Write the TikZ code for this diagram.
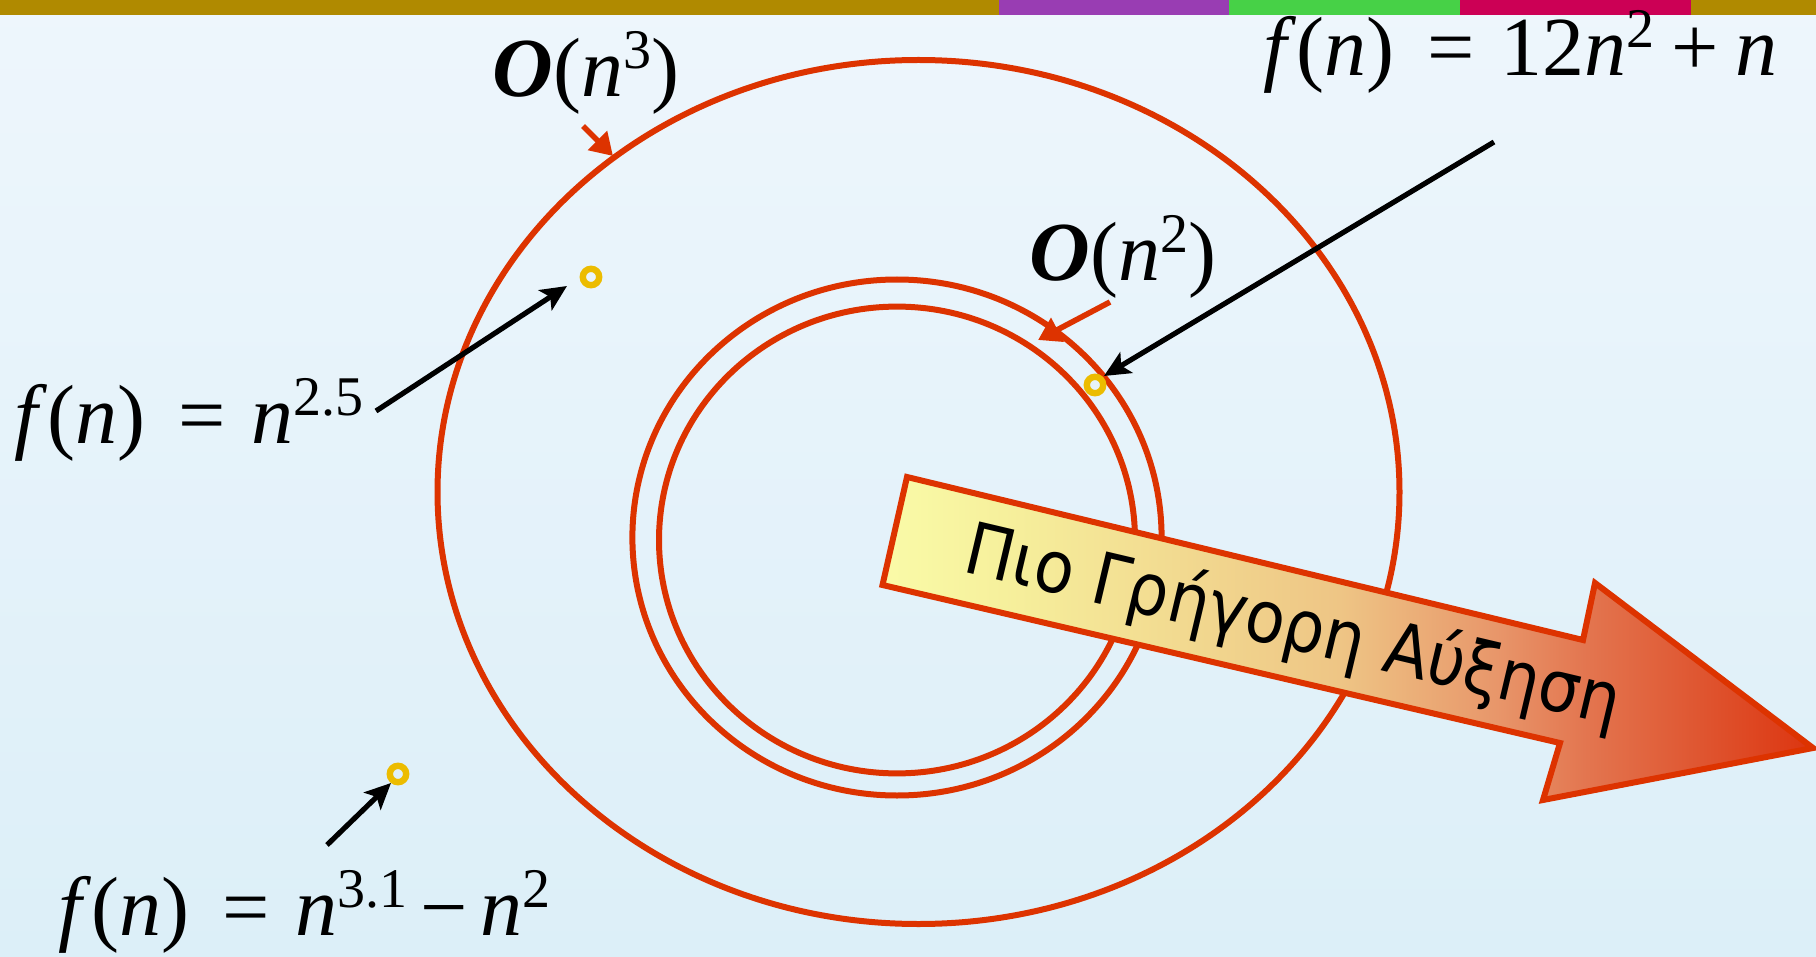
\documentclass[tikz,border=0pt]{standalone}
\usepackage{fontspec}
\setmainfont{Liberation Serif}
\newfontfamily\grk{DejaVu Sans}[FakeStretch=0.9]
\usetikzlibrary{arrows.meta}
\definecolor{bgtop}{HTML}{EEF6FC}
\definecolor{bgbot}{HTML}{DCEFF8}
\definecolor{ored}{HTML}{DD3300}
\definecolor{dotc}{HTML}{ECBC00}
\definecolor{olive}{HTML}{B08A00}
\definecolor{purp}{HTML}{993DB3}
\definecolor{grn}{HTML}{47D147}
\definecolor{crim}{HTML}{CC0055}
\definecolor{a0}{HTML}{FAFBA8}
\definecolor{a1}{HTML}{F6F09C}
\definecolor{a2}{HTML}{EEC585}
\definecolor{a3}{HTML}{E8966A}
\definecolor{a4}{HTML}{E37650}
\definecolor{a5}{HTML}{DF5530}
\definecolor{a6}{HTML}{DC3510}
\pgfdeclarehorizontalshading{arrowshade}{100bp}{color(0bp)=(a0); color(25bp)=(a0); color(31.5bp)=(a1); color(49.6bp)=(a2); color(58bp)=(a3); color(62.7bp)=(a4); color(69bp)=(a5); color(75bp)=(a6); color(100bp)=(a6)}
\newcommand{\supx}[1]{\raisebox{14pt}{\fontsize{28}{28}\selectfont #1}}
\newcommand{\eqsp}{\hspace{0.4em}=\hspace{0.3em}}
\begin{document}
\begin{tikzpicture}[x=0.5pt,y=-0.5pt,
  ring/.style={draw=ored,line width=3pt},
  lbl/.style={anchor=base west,inner sep=0pt,font=\fontsize{42}{50}\selectfont},
  dotn/.style={circle,draw=dotc,line width=3.2pt,minimum size=8.2pt,inner sep=0pt},
  blk/.style={draw=black,line width=2.6pt,-{Stealth[length=13pt,width=12pt,inset=3pt]}},
  redarr/.style={draw=ored,line width=2.8pt,-{Triangle[length=11pt,width=13pt]}},
  arrowbox/.style={draw=ored,line width=3pt,line join=miter,shading=arrowshade}]
\useasboundingbox (0,0) rectangle (1816,957);
\shade[top color=bgtop,bottom color=bgbot] (0,0) rectangle (1816,957);
\fill[olive] (0,0) rectangle (999,15);
\fill[purp] (999,0) rectangle (1229,15);
\fill[grn] (1229,0) rectangle (1460,15);
\fill[crim] (1460,0) rectangle (1691,15);
\fill[olive] (1691,0) rectangle (1816,15);
% sets
\draw[ring] (918.5,492) ellipse [x radius=481, y radius=432];
\draw[ring] (897,537.5) ellipse [x radius=264.6, y radius=258];
\draw[ring] (897,540) ellipse [x radius=238, y radius=233.4];
% labels
\node[lbl] (o3) at (492,97) {\textbf{\textit{O}}(\textit{n}\supx{3})};
\node[lbl] (o2) at (1029,281) {\textbf{\textit{O}}(\textit{n}\supx{2})};
\node[lbl] (f1) at (1263,76) {\textit{f}(\textit{n})\eqsp 12\textit{n}\supx{2}\hspace{0.2em}+\hspace{0.2em}\textit{n}};
\node[lbl] (f2) at (14,444) {\textit{f}(\textit{n})\eqsp\textit{n}\supx{2.5}};
\node[lbl] (f3) at (58,935) {\textit{f}(\textit{n})\eqsp\textit{n}\supx{3.1}\hspace{0.15em}−\hspace{0.15em}\textit{n}\supx{2}};
% dots
\node[dotn] (d1) at (591,277) {};
\node[dotn] (d2) at (1095,385) {};
\node[dotn] (d3) at (398,774) {};
% arrow ends
\coordinate (s1) at (376,411);
\coordinate (e1) at (567,286);
\coordinate (s2) at (1494,142);
\coordinate (e2) at (1104,376);
\coordinate (s3) at (327,845);
\coordinate (e3) at (391,783);
\coordinate (r3s) at (583,126);
\coordinate (r3e) at (613,156);
\coordinate (r2s) at (1110,302);
\coordinate (r2e) at (1038,340);
\draw[blk] (s1) -- (e1);
\draw[blk] (s2) -- (e2);
\draw[blk] (s3) -- (e3);
\draw[redarr] (r3s) -- (r3e);
\draw[redarr] (r2s) -- (r2e);
% big arrow
\path[arrowbox] (907,477) -- (1583,640) -- (1595,583) -- (1813,748) -- (1543,800) -- (1560,743) -- (882.5,585) -- cycle;
\node[rotate=-13.3,inner sep=0pt,font=\grk\fontsize{36}{36}\selectfont] (gt) at (1293,628) {Πιο Γρήγορη Αύξηση};
\end{tikzpicture}
\end{document}
